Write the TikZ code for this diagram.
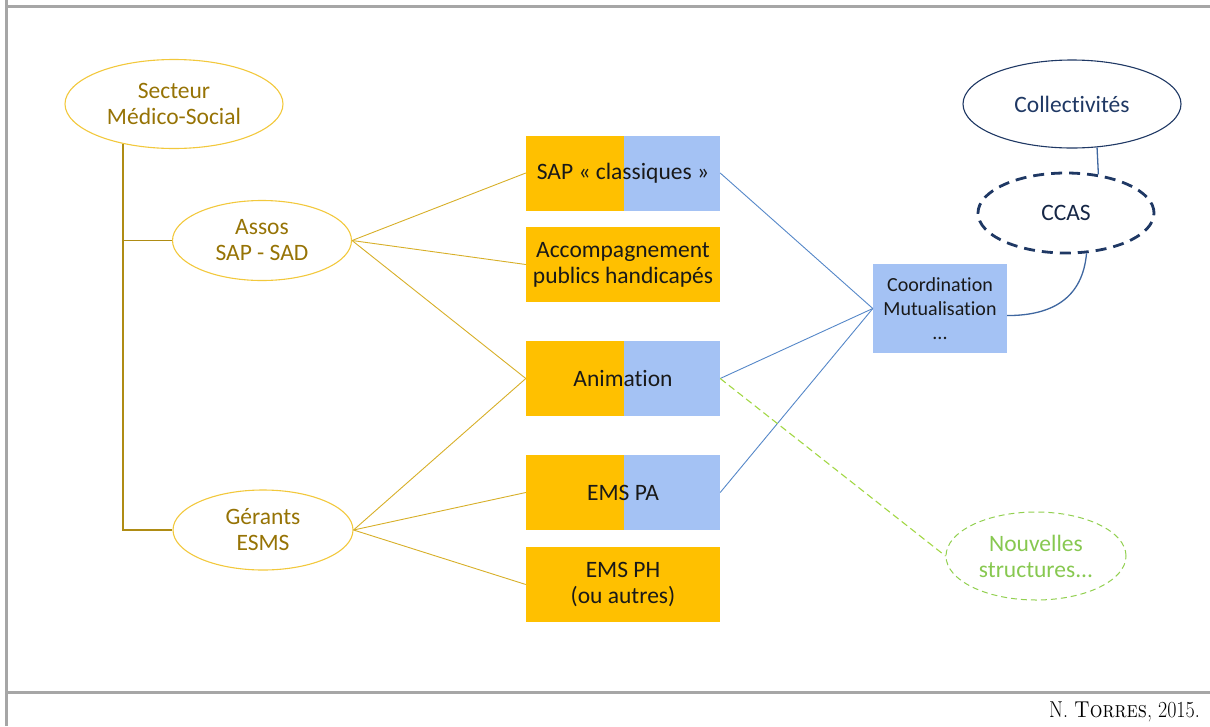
\documentclass[tikz,border=0pt]{standalone}
\usepackage{fontspec}
\newfontfamily\calibri[Ligatures=NoCommon]{Carlito}
\usetikzlibrary{shapes.geometric}
\definecolor{goldell}{RGB}{242,200,60}
\definecolor{goldtext}{RGB}{150,115,5}
\definecolor{goldline}{RGB}{175,140,20}
\definecolor{goldthin}{RGB}{215,175,40}
\definecolor{borange}{RGB}{255,192,0}
\definecolor{bblue}{RGB}{164,194,244}
\definecolor{boxtext}{RGB}{25,25,25}
\definecolor{blueline}{RGB}{85,135,200}
\definecolor{navy}{RGB}{31,56,100}
\definecolor{lgreen}{RGB}{146,208,80}
\definecolor{gtext}{RGB}{135,200,80}
\definecolor{framegray}{RGB}{166,166,166}
\tikzset{
  ell/.style={ellipse, draw, inner sep=0pt, align=center, font=\calibri\fontsize{23.5}{26}\selectfont},
  goldell/.style={ell, draw=goldell, line width=1.1pt, text=goldtext},
  box/.style={rectangle, inner sep=0pt, minimum width=194pt, minimum height=75pt, align=center, text=boxtext, font=\calibri\fontsize{23.5}{26}\selectfont},
  orbox/.style={box, fill=borange},
  splitbox/.style={box, fill=bblue, path picture={\fill[borange] (path picture bounding box.south west) rectangle ([xshift=98pt]path picture bounding box.north west);}},
  goldconn/.style={draw=goldthin, line width=0.9pt},
  treeconn/.style={draw=goldline, line width=1.4pt},
  blueconn/.style={draw=blueline, line width=0.9pt},
  frameline/.style={draw=framegray, line width=3pt}
}
\begin{document}
\begin{tikzpicture}[x=1pt,y=-1pt]
\useasboundingbox (0,0) rectangle (1210,726);
% frame
\draw[frameline] (6,0) -- (6,726);
\draw[frameline] (6,6) -- (1210,6);
\draw[frameline] (6,692) -- (1210,692);
\node[anchor=base east, font=\fontsize{23}{26}\selectfont, inner sep=0pt] (credit) at (1200,717) {\scalebox{0.87}[1]{N. \textsc{Torres}, 2015.}};
% left ellipses
\node[goldell, minimum width=218pt, minimum height=89pt] (secteur) at (174,104) {Secteur\\Médico-Social};
\node[goldell, minimum width=179pt, minimum height=80pt] (assos) at (262,240.5) {Assos\\SAP - SAD};
\node[goldell, minimum width=180pt, minimum height=80pt] (gerants) at (263,530) {Gérants\\ESMS};
% boxes
\node[splitbox] (sap) at (623,173) {SAP « classiques »};
\node[orbox] (acc) at (623,264.5) {Accompagnement\\publics handicapés};
\node[splitbox] (anim) at (623,378.5) {Animation};
\node[splitbox] (emspa) at (623,492.5) {EMS PA};
\node[orbox] (emsph) at (623,584.5) {EMS PH\\(ou autres)};
% right side
\node[rectangle, fill=bblue, inner sep=0pt, minimum width=134pt, minimum height=89pt, align=center, text=boxtext, font=\calibri\fontsize{20}{24}\selectfont] (coord) at (940,308.5) {Coordination\\Mutualisation\\...};
\node[ell, draw=navy, line width=1.1pt, text=navy, minimum width=218pt, minimum height=88pt] (coll) at (1072,104) {Collectivités};
\node[ell, draw=navy, line width=2.8pt, dash pattern=on 11pt off 7pt, text=navy!70!black, minimum width=176pt, minimum height=80pt] (ccas) at (1066,213) {CCAS};
\node[ell, draw=lgreen, line width=1pt, dash pattern=on 6pt off 4pt, text=gtext, minimum width=180pt, minimum height=88pt] (nouv) at (1036,556) {Nouvelles\\structures...};
% tree connectors
\draw[treeconn] (secteur.218) -- (secteur.218 |- gerants.west) -- (gerants.west);
\draw[treeconn] (secteur.218 |- assos.west) -- (assos.west);
% gold connectors
\draw[goldconn] (assos.east) -- (sap.west);
\draw[goldconn] (assos.east) -- (acc.west);
\draw[goldconn] (assos.east) -- (anim.west);
\draw[goldconn] (gerants.east) -- (anim.west);
\draw[goldconn] (gerants.east) -- (emspa.west);
\draw[goldconn] (gerants.east) -- (emsph.west);
% blue connectors
\draw[blueconn] (sap.east) -- (coord.west);
\draw[blueconn] (anim.east) -- (coord.west);
\draw[blueconn] (emspa.east) -- (coord.west);
% navy connectors
\draw[draw=blueline!60!navy, line width=1.3pt] (coll.300) -- (ccas.50.3);
\draw[draw=blueline!60!navy, line width=1.3pt] (ccas.297) .. controls +(-4,45) and +(45,0) .. (coord.-6);
% green dashed
\draw[draw=lgreen!85!yellow, line width=1.1pt, dash pattern=on 7pt off 4pt] (anim.east) -- (nouv.west);
\end{tikzpicture}
\end{document}
